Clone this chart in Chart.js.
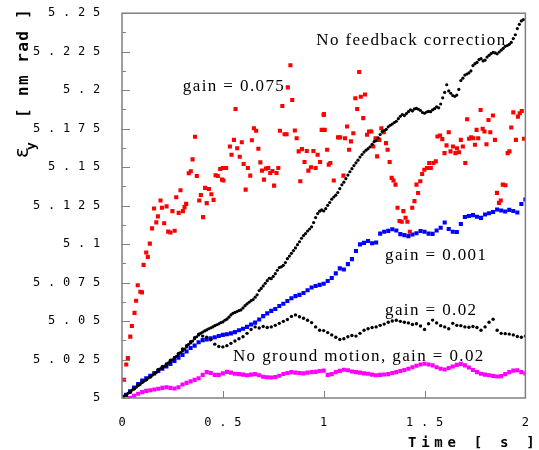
<!DOCTYPE html>
<html>
<head>
<meta charset="utf-8">
<script src="https://cdn.jsdelivr.net/npm/chart.js@4.4.1/dist/chart.umd.min.js"></script>
<style>
  html, body { margin: 0; padding: 0; background: #ffffff; }
  #plot { display: block; }
</style>
</head>
<body>
<canvas id="plot" width="539" height="450"></canvas>
<script>
// ---- axis ticks ----
const xTickValues = [0, 0.5, 1, 1.5, 2];
const xTickLabels = ['0', '0.5', '1', '1.5', '2'];
const yTickValues = [5, 5.025, 5.05, 5.075, 5.1, 5.125, 5.15, 5.175, 5.2, 5.225, 5.25];
const yTickLabels = ['5', '5.025', '5.05', '5.075', '5.1', '5.125', '5.15', '5.175', '5.2', '5.225', '5.25'];

// ---- sampling times [s] ----
const stepTimes = [
  0.00, 0.02, 0.04, 0.06, 0.08, 0.10, 0.12, 0.14, 0.16, 0.18,
  0.20, 0.22, 0.24, 0.26, 0.28, 0.30, 0.32, 0.34, 0.36, 0.38,
  0.40, 0.42, 0.44, 0.46, 0.48, 0.50, 0.52, 0.54, 0.56, 0.58,
  0.60, 0.62, 0.64, 0.66, 0.68, 0.70, 0.72, 0.74, 0.76, 0.78,
  0.80, 0.82, 0.84, 0.86, 0.88, 0.90, 0.92, 0.94, 0.96, 0.98,
  1.00, 1.02, 1.04, 1.06, 1.08, 1.10, 1.12, 1.14, 1.16, 1.18,
  1.20, 1.22, 1.24, 1.26, 1.28, 1.30, 1.32, 1.34, 1.36, 1.38,
  1.40, 1.42, 1.44, 1.46, 1.48, 1.50, 1.52, 1.54, 1.56, 1.58,
  1.60, 1.62, 1.64, 1.66, 1.68, 1.70, 1.72, 1.74, 1.76, 1.78,
  1.80, 1.82, 1.84, 1.86, 1.88, 1.90, 1.92, 1.94, 1.96, 1.98,
  2.00
];

const fineTimes = [
  0.00, 0.01, 0.02, 0.03, 0.04, 0.05, 0.06, 0.07, 0.08, 0.09,
  0.10, 0.11, 0.12, 0.13, 0.14, 0.15, 0.16, 0.17, 0.18, 0.19,
  0.20, 0.21, 0.22, 0.23, 0.24, 0.25, 0.26, 0.27, 0.28, 0.29,
  0.30, 0.31, 0.32, 0.33, 0.34, 0.35, 0.36, 0.37, 0.38, 0.39,
  0.40, 0.41, 0.42, 0.43, 0.44, 0.45, 0.46, 0.47, 0.48, 0.49,
  0.50, 0.51, 0.52, 0.53, 0.54, 0.55, 0.56, 0.57, 0.58, 0.59,
  0.60, 0.61, 0.62, 0.63, 0.64, 0.65, 0.66, 0.67, 0.68, 0.69,
  0.70, 0.71, 0.72, 0.73, 0.74, 0.75, 0.76, 0.77, 0.78, 0.79,
  0.80, 0.81, 0.82, 0.83, 0.84, 0.85, 0.86, 0.87, 0.88, 0.89,
  0.90, 0.91, 0.92, 0.93, 0.94, 0.95, 0.96, 0.97, 0.98, 0.99,
  1.00, 1.01, 1.02, 1.03, 1.04, 1.05, 1.06, 1.07, 1.08, 1.09,
  1.10, 1.11, 1.12, 1.13, 1.14, 1.15, 1.16, 1.17, 1.18, 1.19,
  1.20, 1.21, 1.22, 1.23, 1.24, 1.25, 1.26, 1.27, 1.28, 1.29,
  1.30, 1.31, 1.32, 1.33, 1.34, 1.35, 1.36, 1.37, 1.38, 1.39,
  1.40, 1.41, 1.42, 1.43, 1.44, 1.45, 1.46, 1.47, 1.48, 1.49,
  1.50, 1.51, 1.52, 1.53, 1.54, 1.55, 1.56, 1.57, 1.58, 1.59,
  1.60, 1.61, 1.62, 1.63, 1.64, 1.65, 1.66, 1.67, 1.68, 1.69,
  1.70, 1.71, 1.72, 1.73, 1.74, 1.75, 1.76, 1.77, 1.78, 1.79,
  1.80, 1.81, 1.82, 1.83, 1.84, 1.85, 1.86, 1.87, 1.88, 1.89,
  1.90, 1.91, 1.92, 1.93, 1.94, 1.95, 1.96, 1.97, 1.98, 1.99,
  2.00
];

// ---- vertical emittance [nm rad] ----
// no feedback correction (on fineTimes)
const noFeedback = [
  5.0000, 5.0012, 5.0018, 5.0031, 5.0038, 5.0052, 5.0058, 5.0070, 5.0081, 5.0088,
  5.0102, 5.0110, 5.0118, 5.0130, 5.0135, 5.0148, 5.0158, 5.0166, 5.0182, 5.0190,
  5.0196, 5.0205, 5.0212, 5.0228, 5.0236, 5.0248, 5.0262, 5.0270, 5.0282, 5.0295,
  5.0306, 5.0318, 5.0332, 5.0348, 5.0358, 5.0370, 5.0385, 5.0398, 5.0415, 5.0420,
  5.0428, 5.0436, 5.0442, 5.0450, 5.0456, 5.0462, 5.0470, 5.0476, 5.0482, 5.0490,
  5.0494, 5.0505, 5.0512, 5.0525, 5.0540, 5.0550, 5.0556, 5.0562, 5.0568, 5.0572,
  5.0585, 5.0600, 5.0612, 5.0622, 5.0632, 5.0640, 5.0655, 5.0670, 5.0698, 5.0712,
  5.0728, 5.0745, 5.0762, 5.0778, 5.0775, 5.0790, 5.0808, 5.0830, 5.0848, 5.0852,
  5.0862, 5.0880, 5.0905, 5.0922, 5.0940, 5.0958, 5.0975, 5.0996, 5.1015, 5.1038,
  5.1055, 5.1068, 5.1085, 5.1098, 5.1112, 5.1140, 5.1172, 5.1198, 5.1214, 5.1222,
  5.1215, 5.1230, 5.1252, 5.1270, 5.1292, 5.1306, 5.1318, 5.1335, 5.1360, 5.1385,
  5.1402, 5.1425, 5.1448, 5.1470, 5.1490, 5.1510, 5.1528, 5.1545, 5.1565, 5.1582,
  5.1598, 5.1610, 5.1620, 5.1632, 5.1648, 5.1665, 5.1672, 5.1690, 5.1712, 5.1730,
  5.1738, 5.1745, 5.1762, 5.1772, 5.1780, 5.1790, 5.1798, 5.1815, 5.1830, 5.1842,
  5.1835, 5.1848, 5.1860, 5.1872, 5.1865, 5.1878, 5.1882, 5.1876, 5.1868, 5.1855,
  5.1850, 5.1858, 5.1862, 5.1860, 5.1872, 5.1880, 5.1892, 5.1885, 5.1910, 5.1950,
  5.1985, 5.2035, 5.1995, 5.1980, 5.1965, 5.1960, 5.1968, 5.2005, 5.2062, 5.2078,
  5.2098, 5.2105, 5.2112, 5.2125, 5.2160, 5.2172, 5.2180, 5.2198, 5.2205, 5.2190,
  5.2195, 5.2215, 5.2226, 5.2238, 5.2246, 5.2242, 5.2236, 5.2248, 5.2260, 5.2272,
  5.2285, 5.2290, 5.2298, 5.2310, 5.2335, 5.2360, 5.2400, 5.2428, 5.2450, 5.2458,
  null
];

// gain = 0.075 (own sample times)
const gain075Times = [
  0.010, 0.021, 0.029, 0.041, 0.049, 0.062, 0.070, 0.078, 0.091, 0.099,
  0.107, 0.120, 0.128, 0.138, 0.149, 0.159, 0.170, 0.178, 0.191, 0.198,
  0.209, 0.221, 0.229, 0.240, 0.250, 0.261, 0.269, 0.281, 0.290, 0.302,
  0.310, 0.318, 0.331, 0.341, 0.350, 0.362, 0.371, 0.383, 0.391, 0.402,
  0.412, 0.420, 0.431, 0.443, 0.454, 0.464, 0.475, 0.487, 0.496,
  0.500, 0.503, 0.516, 0.535, 0.543, 0.555, 0.563, 0.571, 0.584, 0.594,
  0.603, 0.613, 0.624, 0.636, 0.644, 0.654, 0.665, 0.676, 0.686, 0.694,
  0.704, 0.714, 0.725, 0.735, 0.746, 0.754, 0.766, 0.775, 0.783, 0.795,
  0.806, 0.816, 0.822, 0.835, 0.844, 0.857, 0.866, 0.876, 0.884, 0.892,
  0.905, 0.916, 0.924, 0.937, 0.949, 0.960, 0.970, 0.982, 0.990, 1.000,
  1.001, 1.005, 1.017, 1.025, 1.033, 1.050, 1.071, 1.082, 1.098, 1.106,
  1.116, 1.126, 1.135, 1.147, 1.157, 1.166, 1.176, 1.184, 1.196, 1.205,
  1.215, 1.225, 1.236, 1.246, 1.257, 1.265, 1.276, 1.286, 1.298, 1.309,
  1.317, 1.327, 1.337, 1.346, 1.356, 1.366, 1.376, 1.387, 1.395, 1.406,
  1.415, 1.427, 1.439, 1.450, 1.460, 1.468, 1.479, 1.488, 1.499,
  1.512, 1.523, 1.531, 1.544, 1.556, 1.564, 1.577, 1.588, 1.599, 1.609,
  1.620, 1.629, 1.641, 1.653, 1.661, 1.671, 1.680, 1.690, 1.702, 1.711,
  1.721, 1.731, 1.742, 1.750, 1.758, 1.766, 1.778, 1.788, 1.797, 1.807,
  1.817, 1.826, 1.839, 1.849, 1.859, 1.869, 1.878, 1.888, 1.901, 1.912,
  1.921, 1.930, 1.940, 1.953, 1.963, 1.972, 1.982, 1.993
];
const gain075 = [
  5.0119, 5.0218, 5.0259, 5.0399, 5.0468, 5.0553, 5.0632, 5.0733, 5.0690, 5.0686,
  5.0865, 5.0945, 5.0917, 5.1003, 5.1102, 5.1231, 5.1141, 5.1180, 5.1283, 5.1236,
  5.1135, 5.1245, 5.1081, 5.1075, 5.1214, 5.1087, 5.1304, 5.1203, 5.1350, 5.1214,
  5.1240, 5.1261, 5.1460, 5.1473, 5.1550, 5.1697, 5.1442, 5.1283, 5.1319, 5.1175,
  5.1365, 5.1266, 5.1358, 5.1324, 5.1287, 5.1447, 5.1442, 5.1488, 5.1419,
  5.1494, 5.1413, 5.1494, 5.1634, 5.1580, 5.1677, 5.1878, 5.1623, 5.1567, 5.1662,
  5.1520, 5.1354, 5.1494, 5.1445, 5.1675, 5.1753, 5.1736, 5.1619, 5.1531, 5.1477,
  5.1419, 5.1490, 5.1494, 5.1462, 5.1475, 5.1380, 5.1462, 5.1494, 5.1736, 5.1897,
  5.1714, 5.1714, 5.2018, 5.2162, 5.1936, 5.1738, 5.1688, 5.1602, 5.1408, 5.1617,
  5.1533, 5.1605, 5.1477, 5.1499, 5.1605, 5.1494, 5.1580, 5.1533, 5.1742, 5.1839,
  5.1845, 5.1742, 5.1613, 5.1516, 5.1527, 5.1413, 5.1693, 5.1693, 5.1445, 5.1688,
  5.1764, 5.1613, 5.1667, 5.1720, 5.1947, 5.1878, 5.2118, 5.1957, 5.1818, 5.1972,
  5.1710, 5.1731, 5.1731, 5.1634, 5.1688, 5.1570, 5.1677, 5.1753, 5.1727, 5.1656,
  5.1613, 5.1533, 5.1430, 5.1413, 5.1386, 5.1236, 5.1150, 5.1145, 5.1214, 5.1171,
  5.1145, 5.1080, 5.1236, 5.1279, 5.1386, 5.1332, 5.1408, 5.1455, 5.1483,
  5.1494, 5.1527, 5.1494, 5.1527, 5.1537, 5.1699, 5.1705, 5.1682, 5.1591, 5.1641,
  5.1727, 5.1602, 5.1634, 5.1591, 5.1623, 5.1597, 5.1677, 5.1634, 5.1527, 5.1811,
  5.1684, 5.1693, 5.1688, 5.1645, 5.1742, 5.1688, 5.1871, 5.1749, 5.1731, 5.1649,
  5.1806, 5.1727, 5.1835, 5.1677, 5.1333, 5.1268, 5.1283, 5.1386, 5.1382, 5.1591,
  5.1602, 5.1757, 5.1856, 5.1677, 5.1828, 5.1850, 5.1865, 5.1684
];

// gain = 0.001 (on stepTimes)
const gain001 = [
  5.0000, 5.0020, 5.0043, 5.0068, 5.0090, 5.0113, 5.0128, 5.0145, 5.0160, 5.0176,
  5.0190, 5.0205, 5.0222, 5.0240, 5.0262, 5.0280, 5.0302, 5.0325, 5.0340, 5.0362,
  5.0376, 5.0380, 5.0388, 5.0395, 5.0403, 5.0410, 5.0414, 5.0420, 5.0428, 5.0440,
  5.0450, 5.0462, 5.0478, 5.0490, 5.0510, 5.0532, 5.0550, 5.0566, 5.0578, 5.0598,
  5.0612, 5.0630, 5.0648, 5.0662, 5.0670, 5.0682, 5.0700, 5.0718, 5.0728, 5.0735,
  5.0742, 5.0760, 5.0780, 5.0810, 5.0842, 5.0835, 5.0870, 5.0902, 5.0955, 5.0998,
  5.1008, 5.1020, 5.1005, 5.1010, 5.1068, 5.1080, 5.1086, 5.1096, 5.1088, 5.1065,
  5.1058, 5.1052, 5.1062, 5.1070, 5.1085, 5.1080, 5.1068, 5.1066, 5.1088, 5.1106,
  5.1140, 5.1098, 5.1080, 5.1078, 5.1130, 5.1176, 5.1182, 5.1188, 5.1178, 5.1170,
  5.1192, 5.1200, 5.1208, 5.1225, 5.1218, 5.1212, 5.1222, 5.1215, 5.1205, 5.1260,
  5.1290
];

// gain = 0.02 (on stepTimes)
const gain002 = [
  5.0000, 5.0018, 5.0040, 5.0062, 5.0085, 5.0102, 5.0118, 5.0140, 5.0162, 5.0185,
  5.0205, 5.0222, 5.0245, 5.0262, 5.0290, 5.0318, 5.0340, 5.0365, 5.0392, 5.0410,
  5.0402, 5.0395, 5.0378, 5.0350, 5.0335, 5.0332, 5.0340, 5.0355, 5.0370, 5.0385,
  5.0398, 5.0420, 5.0445, 5.0462, 5.0455, 5.0465, 5.0458, 5.0462, 5.0472, 5.0485,
  5.0498, 5.0510, 5.0530, 5.0540, 5.0528, 5.0518, 5.0505, 5.0490, 5.0462, 5.0440,
  5.0438, 5.0425, 5.0410, 5.0395, 5.0380, 5.0385, 5.0398, 5.0406, 5.0402, 5.0420,
  5.0440, 5.0450, 5.0458, 5.0462, 5.0472, 5.0480, 5.0492, 5.0500, 5.0505, 5.0498,
  5.0492, 5.0488, 5.0478, 5.0482, 5.0468, 5.0445, 5.0482, 5.0506, 5.0488, 5.0470,
  5.0462, 5.0450, 5.0485, 5.0472, 5.0470, 5.0462, 5.0460, 5.0465, 5.0458, 5.0440,
  5.0462, 5.0492, 5.0512, 5.0440, 5.0420, 5.0418, 5.0415, 5.0410, 5.0400, 5.0395,
  5.0402
];

// no ground motion, gain = 0.02 (on stepTimes)
const noGroundMotion = [
  null, null, 5.0000, 5.0015, 5.0028, 5.0038, 5.0046, 5.0050, 5.0055, 5.0060,
  5.0066, 5.0070, 5.0066, 5.0062, 5.0070, 5.0088, 5.0098, 5.0108, 5.0118, 5.0128,
  5.0150, 5.0168, 5.0162, 5.0150, 5.0150, 5.0160, 5.0170, 5.0165, 5.0158, 5.0155,
  5.0152, 5.0148, 5.0152, 5.0155, 5.0148, 5.0138, 5.0135, 5.0133, 5.0136, 5.0145,
  5.0156, 5.0162, 5.0168, 5.0165, 5.0162, 5.0160, 5.0165, 5.0168, 5.0170, 5.0175,
  5.0178, 5.0150, 5.0155, 5.0168, 5.0176, 5.0184, 5.0180, 5.0172, 5.0168, 5.0165,
  5.0160, 5.0158, 5.0152, 5.0148, 5.0150, 5.0153, 5.0155, 5.0162, 5.0168, 5.0175,
  5.0182, 5.0190, 5.0200, 5.0210, 5.0218, 5.0223, 5.0218, 5.0212, 5.0200, 5.0190,
  5.0185, 5.0195, 5.0205, 5.0215, 5.0222, 5.0212, 5.0198, 5.0182, 5.0168, 5.0158,
  5.0152, 5.0148, 5.0143, 5.0140, 5.0142, 5.0155, 5.0168, 5.0178, 5.0180, 5.0168,
  5.0160
];

// ---- in-plot labels, anchored in data coordinates (left edge, baseline) ----
const noteLayout = [
  { text: 'No feedback correction',        t: 0.9635, v: 5.2293 },
  { text: 'gain = 0.075',                  t: 0.3017, v: 5.1996 },
  { text: 'gain = 0.001',                  t: 1.3040, v: 5.0897 },
  { text: 'gain = 0.02',                   t: 1.3040, v: 5.0542 },
  { text: 'No ground motion, gain = 0.02', t: 0.5500, v: 5.0238 }
];

function pairUp(times, values) {
  const pts = [];
  for (let i = 0; i < times.length; i++) {
    if (values[i] !== null) pts.push({ x: times[i], y: values[i] });
  }
  return pts;
}

function markerSet(label, times, values, color, style, radius) {
  return {
    label: label,
    data: pairUp(times, values),
    showLine: false,
    pointStyle: style,
    pointRadius: radius,
    pointBackgroundColor: color,
    pointBorderColor: color,
    pointBorderWidth: 0,
    pointHoverRadius: radius
  };
}

const AXIS_GREY = '#808080';

// frame, inward ticks, axis titles and in-plot labels
const decorations = {
  id: 'decorations',
  beforeDraw(chart) {
    // spaced-out tick lettering
    chart.ctx.letterSpacing = '7.8px';
  },
  afterDatasetsDraw(chart) {
    const ctx = chart.ctx;
    const xs = chart.scales.x, ys = chart.scales.y;
    ctx.save();
    ctx.letterSpacing = '1.4px';
    ctx.fillStyle = '#000000';
    ctx.font = '17px "Liberation Serif"';
    ctx.textAlign = 'left';
    ctx.textBaseline = 'alphabetic';
    for (const n of noteLayout) {
      ctx.fillText(n.text, xs.getPixelForValue(n.t), ys.getPixelForValue(n.v));
    }
    ctx.restore();
  },
  afterDraw(chart) {
    const ctx = chart.ctx;
    const a = chart.chartArea;
    const xs = chart.scales.x, ys = chart.scales.y;
    ctx.save();
    ctx.strokeStyle = AXIS_GREY;
    ctx.lineWidth = 1.5;
    ctx.strokeRect(a.left, a.top, a.right - a.left, a.bottom - a.top);

    ctx.lineWidth = 1;
    ctx.beginPath();
    for (let i = 0; i < yTickValues.length; i++) {
      const py = Math.round(ys.getPixelForValue(yTickValues[i])) + 0.5;
      ctx.moveTo(a.left, py);
      ctx.lineTo(a.left + 8, py);
      if (i < yTickValues.length - 1) {
        const mid = (yTickValues[i] + yTickValues[i + 1]) / 2;
        const pm = Math.round(ys.getPixelForValue(mid)) + 0.5;
        ctx.moveTo(a.left, pm);
        ctx.lineTo(a.left + 4, pm);
      }
    }
    for (const v of xTickValues) {
      const px = Math.round(xs.getPixelForValue(v)) + 0.5;
      ctx.moveTo(px, a.bottom);
      ctx.lineTo(px, a.bottom - 7);
    }
    ctx.stroke();

    // x-axis title
    ctx.fillStyle = '#000000';
    ctx.letterSpacing = '4.7px';
    ctx.font = 'bold 14px "DejaVu Sans Mono"';
    ctx.textAlign = 'left';
    ctx.textBaseline = 'alphabetic';
    ctx.fillText('Time [ s ]', 408, 447);

    // y-axis title: epsilon with subscript y, then the unit
    ctx.translate(28, 160);
    ctx.rotate(-Math.PI / 2);
    ctx.letterSpacing = '0px';
    ctx.font = '20px "DejaVu Sans"';
    ctx.fillText('ε', 2, 0);
    ctx.font = 'bold 13px "DejaVu Sans Mono"';
    ctx.fillText('y', 10, 7);
    ctx.letterSpacing = '1.4px';
    ctx.font = 'bold 16px "DejaVu Sans Mono"';
    ctx.fillText('[ nm rad ]', 42, 0);
    ctx.restore();
  }
};

new Chart(document.getElementById('plot'), {
  type: 'scatter',
  data: {
    datasets: [
      markerSet('No feedback correction', fineTimes, noFeedback, '#000000', 'circle', 1.6),
      markerSet('gain = 0.02', stepTimes, gain002, '#000000', 'circle', 1.7),
      markerSet('gain = 0.075', gain075Times, gain075, '#ff0000', 'rect', 2.9),
      markerSet('gain = 0.001', stepTimes, gain001, '#0000ff', 'rect', 2.9),
      markerSet('No ground motion, gain = 0.02', stepTimes, noGroundMotion, '#ff00ff', 'rect', 2.9)
    ]
  },
  options: {
    responsive: false,
    devicePixelRatio: 1,
    animation: false,
    events: [],
    layout: { padding: { top: 11, right: 6, left: 0, bottom: 0 } },
    plugins: {
      legend: { display: false },
      tooltip: { enabled: false },
      title: { display: false }
    },
    scales: {
      x: {
        type: 'linear',
        min: 0,
        max: 2,
        grid: { display: false },
        border: { display: false },
        title: { display: false },
        afterFit: s => { s.height = 52; },
        afterBuildTicks: s => { s.ticks = xTickValues.map(v => ({ value: v })); },
        ticks: {
          color: '#000000',
          font: { family: 'DejaVu Sans Mono', size: 12 },
          padding: 10,
          labelOffset: 3.9,
          maxRotation: 0,
          autoSkip: false,
          callback: (value, i) => xTickLabels[i]
        }
      },
      y: {
        type: 'linear',
        min: 5,
        max: 5.25,
        grid: { display: false },
        border: { display: false },
        title: { display: false },
        afterFit: s => { s.width = 122; },
        afterBuildTicks: s => { s.ticks = yTickValues.map(v => ({ value: v })); },
        ticks: {
          color: '#000000',
          font: { family: 'DejaVu Sans Mono', size: 12 },
          padding: 6,
          autoSkip: false,
          callback: (value, i) => yTickLabels[i]
        }
      }
    }
  },
  plugins: [decorations]
});
</script>
</body>
</html>
